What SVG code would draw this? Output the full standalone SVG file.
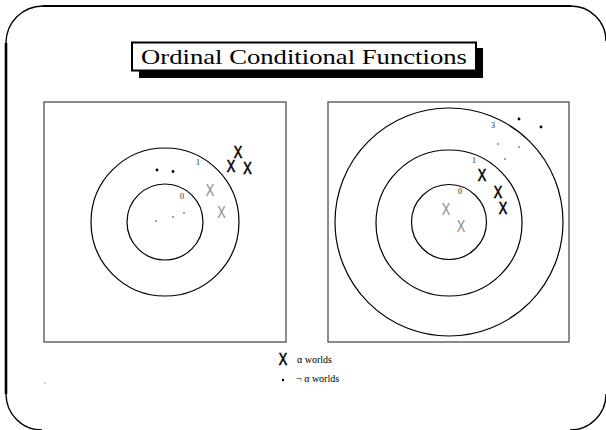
<svg xmlns="http://www.w3.org/2000/svg" width="606" height="430" viewBox="0 0 606 430">
<style>
.frame{fill:none;stroke:#000;stroke-width:1.4}
.panel{fill:#fff;stroke:#666;stroke-width:1.5}
.ring{fill:none;stroke:#000;stroke-width:1.2}
.xb{font-family:"Liberation Sans",Arial,sans-serif;font-size:16px;fill:#000;stroke:#000;stroke-width:0.6;text-anchor:middle}
.xg{font-family:"Liberation Sans",Arial,sans-serif;font-size:16px;fill:#929292;stroke:#929292;stroke-width:0.2;text-anchor:middle}
.num{font-family:"Liberation Serif","Times New Roman",serif;font-size:8px;fill:#222;text-anchor:middle}
.leg{font-family:"Liberation Serif","Times New Roman",serif;font-size:10px;fill:#000}
.db{fill:#000}
.dg{fill:#888}
</style>
<rect width="606" height="430" fill="#fff"/>
<g id="frame">
  <path class="frame" d="M43,6 A37,37 0 0 0 6,43"/>
  <line x1="43" y1="6" x2="571" y2="6" stroke="#000" stroke-width="2.2"/>
  <path class="frame" d="M571,6 A35,35 0 0 1 606,41"/>
  <line x1="6" y1="43" x2="6" y2="394" stroke="#000" stroke-width="2.6"/>
  <path class="frame" d="M6,394 A36,36 0 0 0 42,430"/>
  <path class="frame" d="M606,394 A36,36 0 0 1 570,430"/>
</g>
<g id="title">
  <rect x="139" y="48" width="344" height="30" fill="#000"/>
  <rect x="132" y="42.5" width="344" height="28" fill="#fff" stroke="#000" stroke-width="2"/>
  <text x="304" y="64" font-family="'Liberation Serif','Times New Roman',serif" font-size="21" text-anchor="middle" textLength="326" lengthAdjust="spacingAndGlyphs">Ordinal Conditional Functions</text>
</g>
<g id="left-panel">
  <rect class="panel" x="44" y="102" width="242" height="240"/>
  <circle class="ring" cx="165" cy="222" r="74"/>
  <circle class="ring" cx="165" cy="222" r="38"/>
  <text class="num" x="198" y="165">1</text>
  <text class="num" x="182" y="199">0</text>
  <circle class="db" cx="157" cy="170" r="1.4"/>
  <circle class="db" cx="173" cy="171.5" r="1.4"/>
  <circle class="dg" cx="156" cy="221" r="1"/>
  <circle class="dg" cx="173" cy="217" r="1"/>
  <circle class="dg" cx="184" cy="213" r="1"/>
  <text class="xb" x="238" y="158" textLength="8.5" lengthAdjust="spacingAndGlyphs">X</text>
  <text class="xb" x="231" y="172" textLength="8.5" lengthAdjust="spacingAndGlyphs">X</text>
  <text class="xb" x="247.5" y="174" textLength="8.5" lengthAdjust="spacingAndGlyphs">X</text>
  <text class="xg" x="210" y="196" textLength="8.5" lengthAdjust="spacingAndGlyphs">X</text>
  <text class="xg" x="221.5" y="218" textLength="8.5" lengthAdjust="spacingAndGlyphs">X</text>
</g>
<g id="right-panel">
  <rect class="panel" x="328" y="102" width="241" height="240"/>
  <circle class="ring" cx="449" cy="222" r="114"/>
  <circle class="ring" cx="449" cy="223" r="73"/>
  <circle class="ring" cx="449" cy="222" r="37.5"/>
  <text class="num" x="493" y="128">3</text>
  <text class="num" x="474" y="163">1</text>
  <text class="num" x="460" y="194">0</text>
  <circle class="db" cx="519" cy="119" r="1.4"/>
  <circle class="db" cx="541" cy="127" r="1.4"/>
  <circle class="dg" cx="498" cy="144" r="1"/>
  <circle class="dg" cx="519" cy="147" r="1"/>
  <circle class="dg" cx="505" cy="159" r="1"/>
  <text class="xb" x="482" y="181" textLength="8.5" lengthAdjust="spacingAndGlyphs">X</text>
  <text class="xb" x="498" y="198" textLength="8.5" lengthAdjust="spacingAndGlyphs">X</text>
  <text class="xb" x="503" y="214" textLength="8.5" lengthAdjust="spacingAndGlyphs">X</text>
  <text class="xg" x="446" y="215" textLength="8.5" lengthAdjust="spacingAndGlyphs">X</text>
  <text class="xg" x="461" y="232" textLength="8.5" lengthAdjust="spacingAndGlyphs">X</text>
</g>
<g id="legend">
  <text class="xb" x="283" y="365" textLength="8.5" lengthAdjust="spacingAndGlyphs">X</text>
  <text class="leg" x="297" y="363">α worlds</text>
  <circle class="db" cx="283" cy="380" r="1.2"/>
  <text class="leg" x="296" y="382">¬ α worlds</text>
  <circle cx="45" cy="383" r="0.8" fill="#999"/>
</g>
</svg>
